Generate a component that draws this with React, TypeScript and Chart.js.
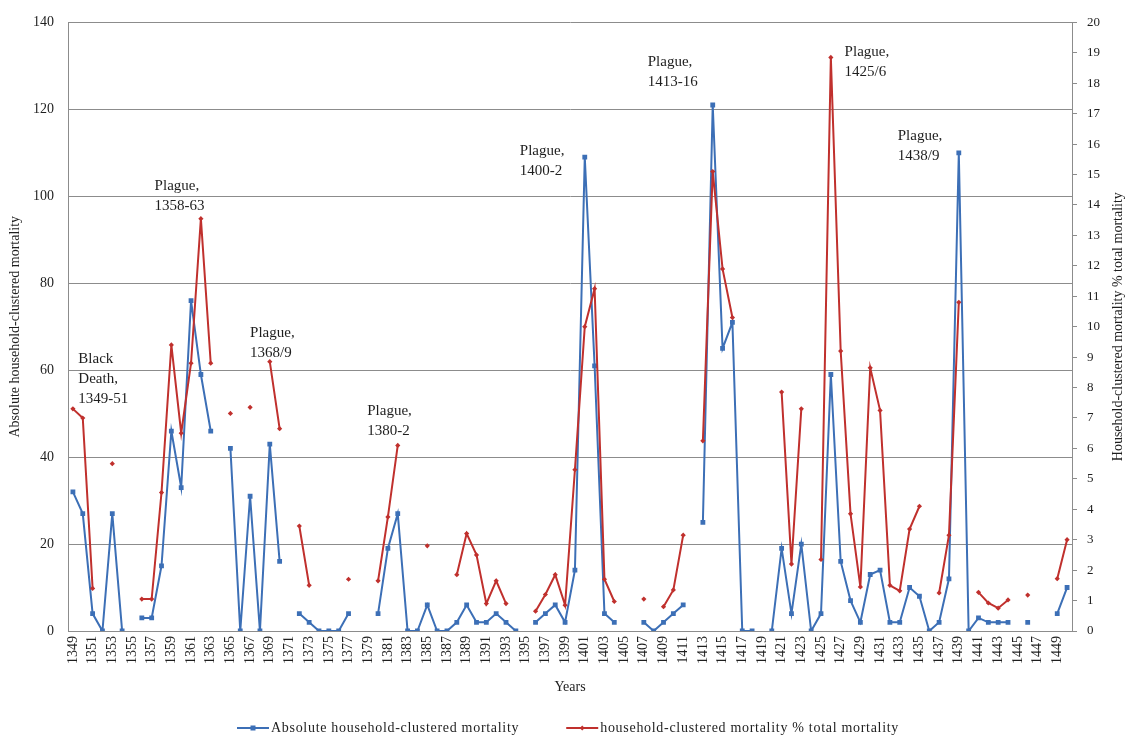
import React, { useEffect, useRef } from 'react';
import { Chart, registerables } from 'chart.js';

Chart.register(...registerables);

const years: number[] = [
  1349, 1350, 1351, 1352, 1353, 1354, 1355, 1356, 1357, 1358,
  1359, 1360, 1361, 1362, 1363, 1364, 1365, 1366, 1367, 1368,
  1369, 1370, 1371, 1372, 1373, 1374, 1375, 1376, 1377, 1378,
  1379, 1380, 1381, 1382, 1383, 1384, 1385, 1386, 1387, 1388,
  1389, 1390, 1391, 1392, 1393, 1394, 1395, 1396, 1397, 1398,
  1399, 1400, 1401, 1402, 1403, 1404, 1405, 1406, 1407, 1408,
  1409, 1410, 1411, 1412, 1413, 1414, 1415, 1416, 1417, 1418,
  1419, 1420, 1421, 1422, 1423, 1424, 1425, 1426, 1427, 1428,
  1429, 1430, 1431, 1432, 1433, 1434, 1435, 1436, 1437, 1438,
  1439, 1440, 1441, 1442, 1443, 1444, 1445, 1446, 1447, 1448,
  1449, 1450,
];

// Absolute household-clustered mortality (left axis)
const absoluteMortality: (number | null)[] = [
  32, 27, 4, 0, 27, 0, null, 3, 3, 15,
  46, 33, 76, 59, 46, null, 42, 0, 31, 0,
  43, 16, null, 4, 2, 0, 0, 0, 4, null,
  null, 4, 19, 27, 0, 0, 6, 0, 0, 2,
  6, 2, 2, 4, 2, 0, null, 2, 4, 6,
  2, 14, 109, 61, 4, 2, null, null, 2, 0,
  2, 4, 6, null, 25, 121, 65, 71, 0, 0,
  null, 0, 19, 4, 20, 0, 4, 59, 16, 7,
  2, 13, 14, 2, 2, 10, 8, 0, 2, 12,
  110, 0, 3, 2, 2, 2, null, 2, null, null,
  4, 10,
];

// Household-clustered mortality % total mortality (right axis)
const percentMortality: (number | null)[] = [
  7.3, 7.0, 1.4, null, 5.5, null, null, 1.05, 1.05, 4.55,
  9.4, 6.5, 8.8, 13.55, 8.8, null, 7.15, null, 7.35, null,
  8.85, 6.65, null, 3.45, 1.5, null, null, null, 1.7, null,
  null, 1.65, 3.75, 6.1, null, null, 2.8, null, null, 1.85,
  3.2, 2.5, 0.9, 1.65, 0.9, null, null, 0.65, 1.2, 1.85,
  0.85, 5.3, 10.0, 11.25, 1.7, 0.97, null, null, 1.05, null,
  0.8, 1.35, 3.15, null, 6.25, 15.1, 11.9, 10.3, null, null,
  null, null, 7.85, 2.2, 7.3, null, 2.35, 18.85, 9.2, 3.85,
  1.45, 8.65, 7.25, 1.5, 1.32, 3.35, 4.1, null, 1.25, 3.15,
  10.8, null, 1.27, 0.92, 0.75, 1.02, null, 1.18, null, null,
  1.72, 3.0,
];

const seriesNames = [
  'Absolute household-clustered mortality',
  'household-clustered mortality % total mortality',
];

const axisTitles = {
  x: 'Years',
  left: 'Absolute household-clustered mortality',
  right: 'Household-clustered mortality % total mortality',
};

const annotations: { lines: string[]; year: number; value: number }[] = [
  { lines: ['Black', 'Death,', '1349-51'], year: 1349.55, value: 62.5 },
  { lines: ['Plague,', '1358-63'], year: 1357.3, value: 102.3 },
  { lines: ['Plague,', '1368/9'], year: 1367.0, value: 68.6 },
  { lines: ['Plague,', '1380-2'], year: 1378.9, value: 50.5 },
  { lines: ['Plague,', '1400-2'], year: 1394.4, value: 110.5 },
  { lines: ['Plague,', '1413-16'], year: 1407.4, value: 130.9 },
  { lines: ['Plague,', '1425/6'], year: 1427.4, value: 133.2 },
  { lines: ['Plague,', '1438/9'], year: 1432.8, value: 113.9 },
];

const BLUE = '#3C6FB6';
const RED = '#C0302D';
const GRID = '#8C8C8C';
const TEXT = '#1E1E1E';
const FONT = '"Liberation Serif", "Times New Roman", serif';

const extrasPlugin = {
  id: 'extras',
  afterDraw(chart: any) {
    const ctx: any = chart.ctx;
    const xs = chart.scales.x;
    const ys = chart.scales.y;
    const area = chart.chartArea;
    ctx.save();
    // annotations
    ctx.fillStyle = TEXT;
    ctx.font = `15px ${FONT}`;
    ctx.textAlign = 'left';
    ctx.textBaseline = 'middle';
    annotations.forEach((a) => {
      const x = xs.getPixelForValue(a.year - years[0]);
      const y0 = ys.getPixelForValue(a.value);
      a.lines.forEach((line, i) => {
        ctx.fillText(line, x, y0 + i * 20);
      });
    });
    // right axis title (reads bottom to top)
    ctx.save();
    ctx.font = `14px ${FONT}`;
    ctx.textAlign = 'center';
    ctx.textBaseline = 'middle';
    ctx.translate(1118, (area.top + area.bottom) / 2);
    ctx.rotate(-Math.PI / 2);
    ctx.fillText(axisTitles.right, 0, 0);
    ctx.restore();
    // legend
    ctx.font = `14px ${FONT}`;
    ctx.letterSpacing = '0.7px';
    ctx.textBaseline = 'middle';
    ctx.textAlign = 'left';
    const ly = 728;
    let lx = 237;
    const colors = [BLUE, RED];
    seriesNames.forEach((name, i) => {
      ctx.strokeStyle = colors[i];
      ctx.lineWidth = 2;
      ctx.beginPath();
      ctx.moveTo(lx, ly);
      ctx.lineTo(lx + 32, ly);
      ctx.stroke();
      ctx.fillStyle = colors[i];
      const cx = lx + 16;
      if (i === 0) {
        ctx.fillRect(cx - 2.5, ly - 2.5, 5, 5);
      } else {
        ctx.beginPath();
        ctx.moveTo(cx, ly - 2.5);
        ctx.lineTo(cx + 2.5, ly);
        ctx.lineTo(cx, ly + 2.5);
        ctx.lineTo(cx - 2.5, ly);
        ctx.closePath();
        ctx.fill();
      }
      ctx.fillStyle = TEXT;
      ctx.fillText(name, lx + 34, ly);
      lx = lx + 34 + ctx.measureText(name).width + 47;
    });
    ctx.restore();
  },
};

export default function App() {
  const canvasRef = useRef<HTMLCanvasElement | null>(null);

  useEffect(() => {
    if (!canvasRef.current) return;
    const chart = new Chart(canvasRef.current, {
      type: 'line',
      data: {
        labels: years.map(String),
        datasets: [
          {
            label: seriesNames[0],
            data: absoluteMortality,
            yAxisID: 'y',
            borderColor: BLUE,
            backgroundColor: BLUE,
            borderWidth: 2,
            pointStyle: 'rect',
            pointRadius: 3.4,
            pointBorderWidth: 0,
            spanGaps: false,
            tension: 0,
            order: 2,
          },
          {
            label: seriesNames[1],
            data: percentMortality,
            yAxisID: 'y1',
            borderColor: RED,
            backgroundColor: RED,
            borderWidth: 2,
            pointStyle: 'rectRot',
            pointRadius: 2.6,
            pointBorderWidth: 0,
            spanGaps: false,
            tension: 0,
            order: 1,
          },
        ],
      },
      options: {
        responsive: false,
        animation: false,
        devicePixelRatio: 1,
        layout: { padding: { top: 15, left: 0, right: 0, bottom: 0 } },
        font: { family: FONT },
        plugins: {
          legend: { display: false },
          tooltip: { enabled: false },
        },
        scales: {
          x: {
            type: 'category',
            offset: true,
            grid: { display: false, drawTicks: false },
            border: { display: true, color: GRID, width: 1 },
            ticks: {
              autoSkip: false,
              maxRotation: 90,
              minRotation: 90,
              padding: 5,
              color: TEXT,
              font: { family: FONT, size: 14 },
              callback: (_v: any, i: number) => (i % 2 === 0 ? String(years[i]) : ''),
            },
            title: {
              display: true,
              text: axisTitles.x,
              color: TEXT,
              font: { family: FONT, size: 14 },
              padding: { top: 0, bottom: 46 },
            },
            afterFit: (s: any) => {
              s.height = 111;
            },
          },
          y: {
            position: 'left',
            min: 0,
            max: 140,
            ticks: {
              stepSize: 20,
              padding: 14,
              color: TEXT,
              font: { family: FONT, size: 14 },
            },
            grid: { color: GRID, lineWidth: 1, drawTicks: false },
            border: { display: true, color: GRID, width: 1 },
            title: {
              display: true,
              text: axisTitles.left,
              color: TEXT,
              font: { family: FONT, size: 14 },
              padding: { top: 7, bottom: 0 },
            },
            afterFit: (s: any) => {
              s.width = 68;
            },
          },
          y1: {
            position: 'right',
            min: 0,
            max: 20,
            ticks: {
              stepSize: 1,
              padding: 10,
              color: TEXT,
              font: { family: FONT, size: 13 },
            },
            grid: {
              drawOnChartArea: false,
              drawTicks: true,
              tickLength: 5,
              color: GRID,
            },
            border: { display: true, color: GRID, width: 1 },
            afterFit: (s: any) => {
              s.width = 55;
            },
          },
        },
      } as any,
      plugins: [extrasPlugin],
    });
    return () => chart.destroy();
  }, []);

  return (
    <div style={{ position: 'fixed', left: 0, top: 0, width: 1127, height: 742, background: '#fff' }}>
      <canvas ref={canvasRef} width={1127} height={742} style={{ display: 'block' }} />
    </div>
  );
}
